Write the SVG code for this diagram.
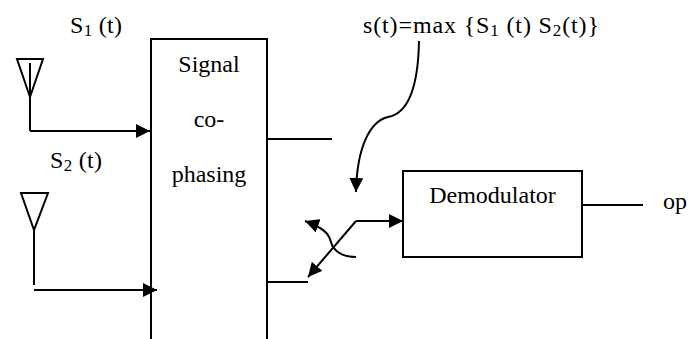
<svg xmlns="http://www.w3.org/2000/svg" width="694" height="339" viewBox="0 0 694 339">
<defs>
<style>
text{font-family:"Liberation Serif","Times New Roman",serif;font-size:24px;fill:#000}
.ln{fill:none;stroke:#000;stroke-width:2}
.sub{font-size:17px}
</style>
<marker id="ah" viewBox="0 0 14 14" refX="14" refY="7" markerWidth="14" markerHeight="14" markerUnits="userSpaceOnUse" orient="auto">
<path d="M0,0 L14,7 L0,14 Z" fill="#000"/>
</marker>
</defs>
<rect width="694" height="339" fill="#fff"/>

<g id="antenna1">
<path class="ln" d="M17,59 L43,59 L30,97 Z"/>
<line class="ln" x1="30" y1="63" x2="30" y2="131"/>
</g>
<g id="antenna2">
<path class="ln" d="M21,193 L48,193 L34,230 Z"/>
<line class="ln" x1="34" y1="230" x2="34" y2="285"/>
</g>

<g id="cophasing">
<path class="ln" d="M151,340 L151,39 L267,39 L267,340"/>
<text x="209" y="72" text-anchor="middle">Signal</text>
<text x="209" y="127" text-anchor="middle">co-</text>
<text x="209" y="182" text-anchor="middle">phasing</text>
</g>

<g id="demodulator">
<rect class="ln" x="403" y="171" width="179" height="86"/>
<text x="492.5" y="203" text-anchor="middle">Demodulator</text>
</g>

<g id="labels">
<text x="70" y="33" textLength="52" lengthAdjust="spacing">S<tspan class="sub" dy="3">1</tspan><tspan dy="-3"> (t)</tspan></text>
<text x="50" y="168" textLength="52" lengthAdjust="spacing">S<tspan class="sub" dy="3">2</tspan><tspan dy="-3"> (t)</tspan></text>
<text x="363" y="33" textLength="236" lengthAdjust="spacing">s(t)=max {S<tspan class="sub" dy="3">1</tspan><tspan dy="-3"> (t) S</tspan><tspan class="sub" dy="3">2</tspan><tspan dy="-3">(t)}</tspan></text>
<text x="663" y="209">op</text>
</g>

<g id="connectors">
<path class="ln" d="M30,131 L150,131" marker-end="url(#ah)"/>
<path class="ln" d="M34,290 L157,290" marker-end="url(#ah)"/>
<line class="ln" x1="267" y1="139" x2="332" y2="139"/>
<line class="ln" x1="267" y1="282" x2="308" y2="282"/>
<path class="ln" d="M419,41 C418,95 405,114 388,117 C371,121 357,145 356,192" marker-end="url(#ah)"/>
<path class="ln" d="M356,221 L403,221" marker-end="url(#ah)"/>
<path class="ln" d="M356,221 L308,277" marker-end="url(#ah)"/>
<path class="ln" d="M356,257 C341,257 333,250 331,242 C329,234 324,228 305,221" marker-end="url(#ah)"/>
<line class="ln" x1="582" y1="205" x2="643" y2="205"/>
</g>
</svg>
